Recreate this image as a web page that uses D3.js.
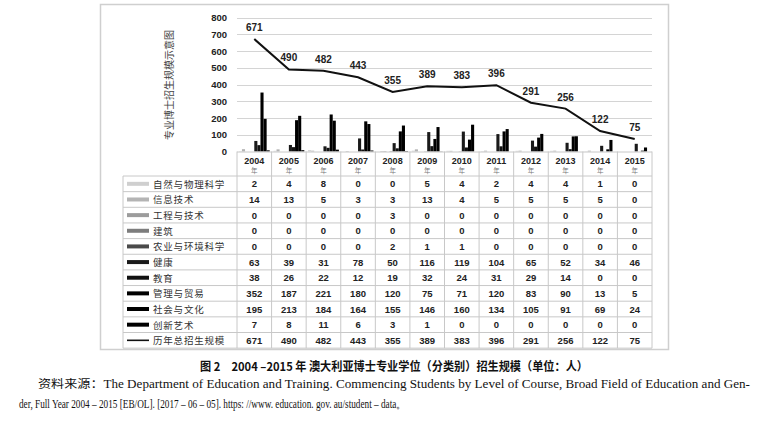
<!DOCTYPE html>
<html lang="zh">
<head>
<meta charset="UTF-8">
<title>2004-2015 年 澳大利亚博士专业学位（分类别）招生规模</title>
<script src="https://d3js.org/d3.v7.min.js"></script>
<style>
  body { margin: 0; background: #fff; }
  svg { display: block; }
  .num { font-family: "Liberation Sans", Arial, sans-serif; font-weight: bold; fill: #222; }
  .zh { font-family: "Noto Sans CJK SC", sans-serif; }
  .grid line { stroke: #d4d4d4; stroke-width: 1; }
</style>
</head>
<body>
<svg width="768" height="423"></svg>
<script>
// ---- data ----
const years = ["2004","2005","2006","2007","2008","2009","2010","2011","2012","2013","2014","2015"];
const categories = ["自然与物理科学","信息技术","工程与技术","建筑","农业与环境科学","健康","教育","管理与贸易","社会与文化","创新艺术"];
const natural     = [2,4,8,0,0,5,4,2,4,4,1,0];
const infoTech    = [14,13,5,3,3,13,4,5,5,5,5,0];
const engineering = [0,0,0,0,3,0,0,0,0,0,0,0];
const architecture= [0,0,0,0,0,0,0,0,0,0,0,0];
const agriculture = [0,0,0,0,2,1,1,0,0,0,0,0];
const health      = [63,39,31,78,50,116,119,104,65,52,34,46];
const education   = [38,26,22,12,19,32,24,31,29,14,0,0];
const management  = [352,187,221,180,120,75,71,120,83,90,13,5];
const society     = [195,213,184,164,155,146,160,134,105,91,69,24];
const creative    = [7,8,11,6,3,1,0,0,0,0,0,0];
const totalLabel  = "历年总招生规模";
const totals      = [671,490,482,443,355,389,383,396,291,256,122,75];
const yTicks      = [0,100,200,300,400,500,600,700,800];

const series = [natural, infoTech, engineering, architecture, agriculture,
                health, education, management, society, creative];
const colors = ["#cfcfcf","#b4b4b4","#9c9c9c","#7d7d7d","#4a4a4a",
                "#1a1a1a","#111","#000","#000","#000"];

const svg = d3.select("svg");

// outer frame
svg.append("rect")
  .attr("x", 100.5).attr("y", 4.5).attr("width", 568).attr("height", 345)
  .attr("fill", "none").attr("stroke", "#cfcfcf").attr("stroke-width", 1.5);

const plotL = 237, plotR = 652, plotT = 17.5, plotB = 151.5;

const x = d3.scaleBand().domain(years).range([plotL, plotR]);
const xi = d3.scaleBand().domain(d3.range(categories.length))
  .range([0, x.bandwidth()]).paddingOuter(0.6);
const y = d3.scaleLinear().domain([0, 800]).range([plotB, plotT]);

// grid lines
svg.append("g").attr("class", "grid")
  .selectAll("line").data(yTicks.slice(1)).join("line")
  .attr("x1", plotL).attr("x2", plotR)
  .attr("y1", d => Math.round(y(d)) + 0.5).attr("y2", d => Math.round(y(d)) + 0.5);

// y axis labels
const yAxis = svg.append("g")
  .attr("transform", `translate(${plotL - 10},0)`)
  .call(d3.axisLeft(y).tickValues(yTicks).tickSize(0).tickPadding(0));
yAxis.select(".domain").remove();
yAxis.selectAll("text").attr("class", "num").attr("font-size", 9.5).attr("fill", "#222");

// y axis title
svg.append("text").attr("class", "zh")
  .attr("transform", "translate(168,85) rotate(-90)")
  .attr("text-anchor", "middle").attr("dominant-baseline", "central")
  .attr("font-size", 10).attr("fill", "#444")
  .text("专业博士招生规模示意图");

// bars
const groups = svg.append("g").selectAll("g").data(years).join("g")
  .attr("transform", d => `translate(${x(d)},0)`);
groups.selectAll("rect")
  .data((d, i) => series.map((s, k) => ({ k, v: s[i] })))
  .join("rect")
  .attr("x", d => xi(d.k))
  .attr("width", xi.bandwidth())
  .attr("y", d => y(d.v))
  .attr("height", d => plotB - y(d.v))
  .attr("fill", d => colors[d.k]);

// total line
const line = d3.line().x((d, i) => x(years[i]) + x.bandwidth() / 2).y(d => y(d));
svg.append("path").datum(totals)
  .attr("d", line).attr("fill", "none").attr("stroke", "#111").attr("stroke-width", 2);
svg.append("g").selectAll("text").data(totals).join("text")
  .attr("class", "num")
  .attr("x", (d, i) => x(years[i]) + x.bandwidth() / 2)
  .attr("y", d => y(d) - 8)
  .attr("text-anchor", "middle").attr("font-size", 10)
  .text(d => d);

// ---- data table ----
const rowH = 15.65, headTop = plotB, headBot = 176, tblLeft = 123;
const rows = categories.map((c, k) => ({ name: c, vals: series[k], color: colors[k], thick: true }))
  .concat([{ name: totalLabel, vals: totals, color: "#111", thick: false }]);
const tblBottom = headBot + rowH * rows.length;
const tbl = svg.append("g");
const gridStroke = "#c8c8c8";

// header cells
tbl.selectAll("line.hv").data(years.concat(["end"])).join("line")
  .attr("x1", (d, i) => plotL + i * x.bandwidth()).attr("x2", (d, i) => plotL + i * x.bandwidth())
  .attr("y1", headTop).attr("y2", tblBottom)
  .attr("stroke", gridStroke);
tbl.append("line").attr("x1", plotL).attr("x2", plotR).attr("y1", headTop + 0.5).attr("y2", headTop + 0.5)
  .attr("stroke", gridStroke);
tbl.append("line").attr("x1", tblLeft).attr("x2", tblLeft).attr("y1", headBot).attr("y2", tblBottom)
  .attr("stroke", gridStroke);
tbl.selectAll("line.hr").data(d3.range(rows.length + 1)).join("line")
  .attr("x1", tblLeft).attr("x2", plotR)
  .attr("y1", i => headBot + i * rowH).attr("y2", i => headBot + i * rowH)
  .attr("stroke", gridStroke);

tbl.selectAll("text.yr").data(years).join("text")
  .attr("class", "num").attr("font-size", 9)
  .attr("x", d => x(d) + x.bandwidth() / 2).attr("y", headTop + 12)
  .attr("text-anchor", "middle").text(d => d);
tbl.selectAll("text.nian").data(years).join("text")
  .attr("class", "zh").attr("font-size", 6.5).attr("fill", "#777")
  .attr("x", d => x(d) + x.bandwidth() / 2).attr("y", headTop + 21)
  .attr("text-anchor", "middle").text("年");

const rg = tbl.selectAll("g.row").data(rows).join("g")
  .attr("transform", (d, i) => `translate(0,${headBot + i * rowH})`);
rg.append("line")
  .attr("x1", 127).attr("x2", 149).attr("y1", rowH / 2).attr("y2", rowH / 2)
  .attr("stroke", d => d.color).attr("stroke-width", d => d.thick ? 4 : 1.6);
rg.append("text").attr("class", "zh")
  .attr("x", 153).attr("y", rowH / 2).attr("dominant-baseline", "central")
  .attr("font-size", 9.5).attr("letter-spacing", 0.8).attr("fill", "#333")
  .text(d => d.name);
rg.selectAll("text.v").data(d => d.vals).join("text")
  .attr("class", "num").attr("font-size", 9.5)
  .attr("x", (d, i) => x(years[i]) + x.bandwidth() / 2)
  .attr("y", rowH / 2).attr("dominant-baseline", "central")
  .attr("text-anchor", "middle").text(d => d);

// ---- caption and source ----
svg.append("text").attr("x", 200).attr("y", 371)
  .attr("font-size", 12).attr("fill", "#111")
  .attr("font-family", "'Noto Sans CJK SC', sans-serif").attr("font-weight", "bold")
  .attr("textLength", 388).attr("lengthAdjust", "spacingAndGlyphs")
  .text("图 2　2004 –2015 年 澳大利亚博士专业学位（分类别）招生规模（单位：人）");

const src1 = svg.append("text").attr("x", 38).attr("y", 388)
  .attr("font-size", 11.5).attr("fill", "#111")
  .attr("font-family", "'Liberation Serif', serif")
  .attr("textLength", 712).attr("lengthAdjust", "spacingAndGlyphs");
src1.append("tspan").attr("font-family", "'Noto Sans CJK SC', sans-serif").text("资料来源：");
src1.append("tspan").text("The Department of Education and Training. Commencing Students by Level of Course, Broad Field of Education and Gen-");

svg.append("text").attr("x", 19).attr("y", 408)
  .attr("font-size", 11.5).attr("fill", "#111")
  .attr("font-family", "'Liberation Serif', serif")
  .attr("textLength", 387).attr("lengthAdjust", "spacingAndGlyphs")
  .text("der, Full Year 2004 – 2015 [EB/OL]. [2017 – 06 – 05]. https: //www. education. gov. au/student – data。");
</script>
</body>
</html>
